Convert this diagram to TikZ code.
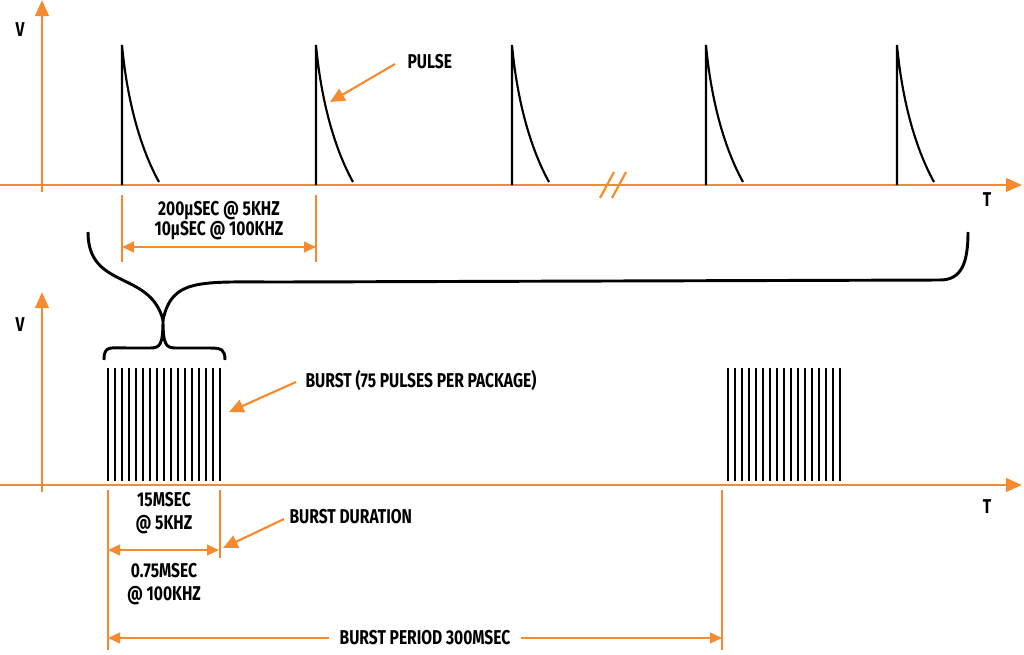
\documentclass[tikz,border=0pt]{standalone}
\usepackage{fontspec}
\setmainfont{Fira Sans}
\newfontfamily\lblfont[FakeStretch=0.78]{Fira Sans}
\usetikzlibrary{arrows.meta}
\definecolor{orng}{HTML}{F58A2E}

\begin{document}
\begin{tikzpicture}[x=0.75pt,y=-0.75pt,
                    axis/.style={orng,line width=2.2pt,-{Triangle[length=12pt,width=10pt]}},
                    dim/.style={orng,line width=1.6pt,{Triangle[length=9pt,width=8pt]}-{Triangle[length=9pt,width=8pt]}},
                    guide/.style={orng,line width=1.6pt},
                    pointer/.style={orng,line width=1.6pt,-{Triangle[length=11pt,width=10pt]}},
                    sig/.style={black,line width=1.6pt},
                    brace/.style={black,line width=2.2pt},
                    lbl/.style={font=\lblfont\bfseries\fontsize{15}{16}\selectfont,inner sep=1pt,align=center}]
  \useasboundingbox (0,0) rectangle (1024,654);

  % top axes
  \coordinate (t0) at (0,185);
  \coordinate (t1) at (1022,185);
  \coordinate (v0) at (42,192);
  \coordinate (v1) at (42,0);
  \draw[axis] (t0) -- (t1);
  \draw[axis] (v0) -- (v1);
  \node[lbl] (vtop) at (20,30) {V};
  \node[lbl] (ttop) at (987,200) {T};

  % pulses
  \foreach \px in {122,316,512,706,897}
    \draw[sig] (\px,185) -- (\px,45) .. controls (\px+6,110) and (\px+22,155) .. (\px+37,182);
  \draw[orng,line width=1.6pt] (600,198) -- (614,172) (612,198) -- (626,172);

  % pulse spacing
  \draw[guide] (122,195) -- (122,262);
  \draw[guide] (316,195) -- (316,262);
  \coordinate (sa) at (122,247);
  \coordinate (sb) at (316,247);
  \draw[dim] (sa) -- (sb);
  \node[lbl] (spc) at (219,221) {200µSEC @ 5KHZ\\[-1pt]10µSEC @ 100KHZ};

  \node[lbl,anchor=west] (pulse) at (406,62) {PULSE};
  \coordinate (ptip) at (330,102);
  \draw[pointer] (395,64) -- (ptip);

  % braces
  \draw[brace] (88,232) .. controls (88,290) and (150,270) .. (163,320)
               .. controls (172,278) and (200,282) .. (280,282) -- (940,280)
               .. controls (962,280) and (968,262) .. (968,232);
  \draw[brace] (104,360) .. controls (104,345) and (110,348) .. (130,348) -- (150,348)
               .. controls (160,348) and (163,345) .. (163,320)
               .. controls (163,345) and (166,348) .. (176,348) -- (210,348)
               .. controls (222,348) and (225,350) .. (225,360);

  % bottom axes
  \coordinate (b0) at (0,485);
  \coordinate (b1) at (1022,485);
  \coordinate (w0) at (42,492);
  \coordinate (w1) at (42,292);
  \draw[axis] (b0) -- (b1);
  \draw[axis] (w0) -- (w1);
  \node[lbl] (vbot) at (20,325) {V};
  \node[lbl] (tbot) at (987,507) {T};

  % bursts
  \foreach \k in {0,...,16} {
    \draw[sig] (108+\k*7,368) -- (108+\k*7,481);
    \draw[sig] (728+\k*7,368) -- (728+\k*7,481);
  }

  \node[lbl,anchor=west] (burst) at (304,380) {BURST (75 PULSES PER PACKAGE)};
  \coordinate (btip) at (229,412);
  \draw[pointer] (296,382) -- (btip);

  % burst duration
  \draw[guide] (108,490) -- (108,650);
  \draw[guide] (220,490) -- (220,558);
  \draw[guide] (722,490) -- (722,650);
  \coordinate (da) at (108,550);
  \coordinate (db) at (219,550);
  \draw[dim] (da) -- (db);
  \node[lbl] (dur1) at (164,513) {15MSEC\\[1pt]@ 5KHZ};
  \node[lbl] (dur2) at (164,584) {0.75MSEC\\[1pt]@ 100KHZ};
  \node[lbl,anchor=west] (bdur) at (288,517) {BURST DURATION};
  \coordinate (dtip) at (223,548);
  \draw[pointer] (284,519) -- (dtip);

  % burst period
  \coordinate (pa) at (108,638);
  \coordinate (pb) at (722,638);
  \draw[dim] (pa) -- (pb);
  \node[lbl,fill=white,inner xsep=8pt] (bper) at (425,638) {BURST PERIOD 300MSEC};
\end{tikzpicture}
\end{document}
